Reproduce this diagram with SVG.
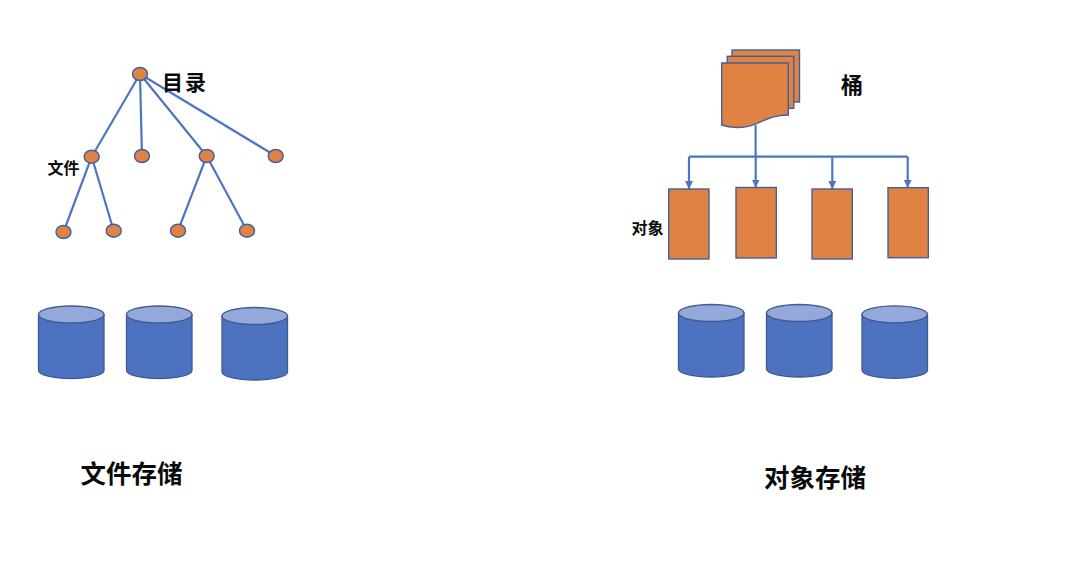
<svg xmlns="http://www.w3.org/2000/svg" width="1080" height="564" viewBox="0 0 1080 564">
<style>
text{font-family:"Noto Sans CJK SC","Liberation Sans",sans-serif;fill:#0a0a0a;font-weight:700;text-anchor:middle;dominant-baseline:central}
.n{fill:#e08242;stroke:#41619c;stroke-width:1.4}
.c{fill:none;stroke:#4e74c4;stroke-width:2.2}
.body{fill:#4d72bf;stroke:#3c5a94;stroke-width:1.3}
.top{fill:#94a9d9;stroke:#3c5a94;stroke-width:1.3}
</style>
<defs>
<marker id="a" markerUnits="userSpaceOnUse" markerWidth="9" markerHeight="8" refX="8" refY="4" orient="auto"><path d="M0 0L8 4L0 8z" fill="#4e74c4"/></marker>
<g id="cyl"><path class="body" d="M0 8.500V64.500C0 69 14.700 72.500 32.750 72.500S65.500 69 65.500 64.500V8.500z"/><ellipse class="top" cx="32.750" cy="8.500" rx="32.750" ry="8.500"/></g>
</defs>
<g id="connectors">
<path class="c" d="M140 74L91.700 156.700M140 74L142 156M140 74L206.700 156M140 74L275.700 156M91.700 156.700L63.500 232M91.700 156.700L113.700 230.700M206.700 156L178 230.700M206.700 156L247 230.700"/>
<path class="c" d="M755.600 125V156.700"/>
<path class="c" d="M689 156.700H907.700"/>
<path class="c" marker-end="url(#a)" d="M689 156.700V189"/>
<path class="c" marker-end="url(#a)" d="M755.700 156.700V187.500"/>
<path class="c" marker-end="url(#a)" d="M832.300 156.700V189"/>
<path class="c" marker-end="url(#a)" d="M907.700 156.700V187.700"/>
</g>
<g id="dir-root"><ellipse class="n" cx="140" cy="74" rx="7.500" ry="6.500"/></g>
<g id="file-1"><ellipse class="n" cx="91.700" cy="156.700" rx="7.500" ry="6.500"/></g>
<g id="file-2"><ellipse class="n" cx="142" cy="156" rx="7.500" ry="6.500"/></g>
<g id="file-3"><ellipse class="n" cx="206.700" cy="156" rx="7.500" ry="6.500"/></g>
<g id="file-4"><ellipse class="n" cx="275.700" cy="156" rx="7.500" ry="6.500"/></g>
<g id="file-5"><ellipse class="n" cx="63.500" cy="232" rx="7.500" ry="6.500"/></g>
<g id="file-6"><ellipse class="n" cx="113.700" cy="230.700" rx="7.500" ry="6.500"/></g>
<g id="file-7"><ellipse class="n" cx="178" cy="230.700" rx="7.500" ry="6.500"/></g>
<g id="file-8"><ellipse class="n" cx="247" cy="230.700" rx="7.500" ry="6.500"/></g>
<g id="label-dir"><text x="185" y="81" font-size="21" style="letter-spacing:2px">目录</text></g>
<g id="label-file"><text x="63.500" y="167" font-size="16">文件</text></g>
<g id="bucket">
<rect class="n" x="732" y="50" width="67.500" height="52"/>
<rect class="n" x="727.300" y="56.300" width="66.500" height="52"/>
<path class="n" d="M721.700 63H788.300V115C764 115 758 128 737 127.500C730 127.300 726 126.500 721.700 125z"/>
</g>
<g id="label-bucket"><text x="852" y="83" font-size="22">桶</text></g>
<g id="object-1"><rect class="n" x="668.700" y="189" width="40.300" height="70"/></g>
<g id="object-2"><rect class="n" x="736" y="187.500" width="40.300" height="70.500"/></g>
<g id="object-3"><rect class="n" x="812" y="189" width="40.300" height="70"/></g>
<g id="object-4"><rect class="n" x="888" y="187.700" width="40.300" height="70"/></g>
<g id="label-object"><text x="647.500" y="227" font-size="16">对象</text></g>
<g id="disk-1"><use href="#cyl" x="38.500" y="306"/></g>
<g id="disk-2"><use href="#cyl" x="126.500" y="306"/></g>
<g id="disk-3"><use href="#cyl" x="222" y="307.500"/></g>
<g id="disk-4"><use href="#cyl" x="678.500" y="304.500"/></g>
<g id="disk-5"><use href="#cyl" x="766.500" y="304.500"/></g>
<g id="disk-6"><use href="#cyl" x="862" y="305.800"/></g>
<g id="title-file"><text x="131.500" y="471" font-size="25.500">文件存储</text></g>
<g id="title-object"><text x="815" y="475" font-size="25.500">对象存储</text></g>
</svg>
